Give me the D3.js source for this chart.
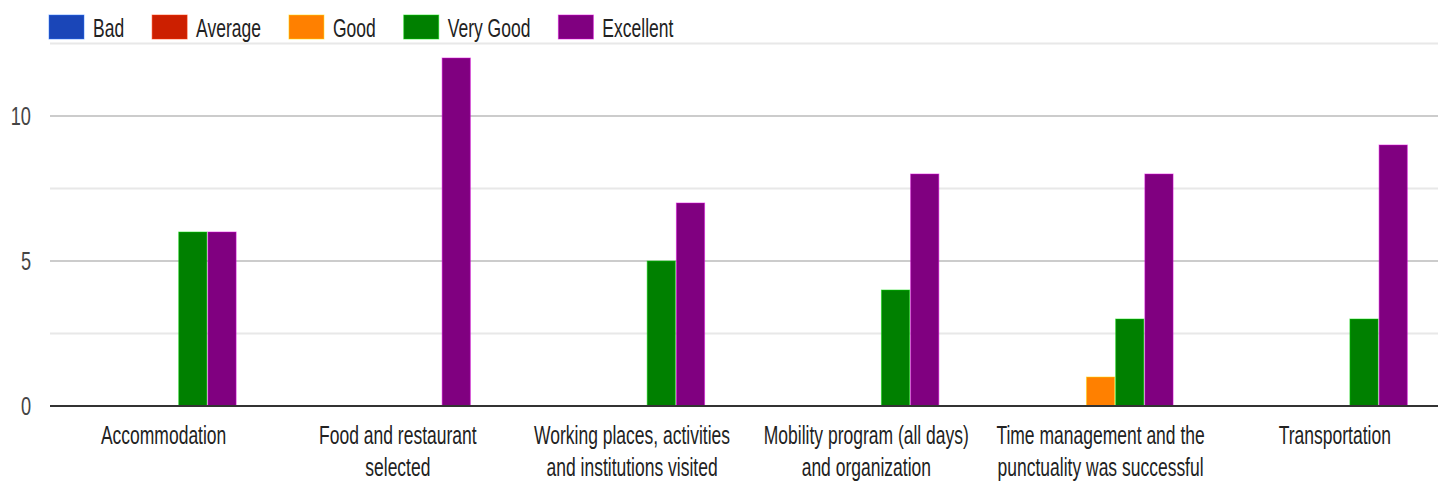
<!DOCTYPE html>
<html lang="en">
<head>
<meta charset="UTF-8">
<title>Ratings</title>
<script src="https://d3js.org/d3.v7.min.js"></script>
<style>
  body { margin: 0; background: #fff; }
  svg { display: block; font-family: "Liberation Sans", Arial, sans-serif; }
</style>
</head>
<body>
<svg id="chart" width="1438" height="483"></svg>
<script>
// data
var categories = [
  ["Accommodation"],
  ["Food and restaurant", "selected"],
  ["Working places, activities", "and institutions visited"],
  ["Mobility program (all days)", "and organization"],
  ["Time management and the", "punctuality was successful"],
  ["Transportation"]
];
var seriesNames = ["Bad", "Average", "Good", "Very Good", "Excellent"];
var seriesColors = ["#1a46b8", "#cc1f00", "#ff8000", "#008000", "#800080"];
var bad       = [0, 0, 0, 0, 0, 0];
var average   = [0, 0, 0, 0, 0, 0];
var good      = [0, 0, 0, 0, 1, 0];
var veryGood  = [6, 0, 5, 4, 3, 3];
var excellent = [6, 12, 7, 8, 8, 9];
var yTicks = [0, 5, 10];
var yGrid = [2.5, 7.5, 12.5];

var series = [bad, average, good, veryGood, excellent];
var sx = 0.7; // the text in the picture is squeezed sideways

var svg = d3.select("#chart");
var plotLeft = 50, plotTop = 43.5, plotBottom = 406;

// category bands: 6 steps of ~234px, each holding a 145px group
var x = d3.scaleBand()
    .domain(d3.range(categories.length))
    .range([46.6, 1451.8])
    .paddingInner(0.381)
    .paddingOuter(0.19);
var xs = d3.scaleBand()
    .domain(d3.range(seriesNames.length))
    .range([0, x.bandwidth()])
    .paddingInner(0.035);
var y = d3.scaleLinear().domain([0, 12.5]).range([plotBottom, plotTop]);

function squeezed(g, px, py, str, anchor, size, color) {
    return g.append("text")
        .attr("transform", "translate(" + px + "," + py + ") scale(" + sx + ",1)")
        .attr("text-anchor", anchor)
        .attr("font-size", size)
        .attr("fill", color)
        .text(str);
}

// grid
var grid = svg.append("g");
grid.selectAll("line.minor")
    .data(yGrid)
    .enter().append("line")
    .attr("class", "minor")
    .attr("x1", plotLeft).attr("x2", 1438)
    .attr("y1", d => y(d)).attr("y2", d => y(d))
    .attr("stroke", "#e8e8e8").attr("stroke-width", 2);
grid.selectAll("line.major")
    .data(yTicks.filter(d => d > 0))
    .enter().append("line")
    .attr("class", "major")
    .attr("x1", plotLeft).attr("x2", 1438)
    .attr("y1", d => y(d)).attr("y2", d => y(d))
    .attr("stroke", "#cccccc").attr("stroke-width", 2);

// y tick labels
var yl = svg.append("g");
yTicks.forEach(function (t) {
    squeezed(yl, 31, y(t) + 9, String(t), "end", 26, "#444");
});

// bars
var groups = svg.append("g").selectAll("g")
    .data(categories)
    .enter().append("g")
    .attr("transform", (d, i) => "translate(" + x(i) + ",0)");
groups.selectAll("rect")
    .data((d, i) => series.map((s, k) => ({ k: k, v: s[i] })).filter(d => d.v > 0))
    .enter().append("rect")
    .attr("x", d => xs(d.k))
    .attr("width", xs.bandwidth())
    .attr("y", d => y(d.v))
    .attr("height", d => y(0) - y(d.v))
    .attr("fill", d => seriesColors[d.k])
    .attr("stroke", d => d3.color(seriesColors[d.k]).brighter(1.5))
    .attr("stroke-opacity", 0.5)
    .attr("stroke-width", 1);

// baseline
svg.append("line")
    .attr("x1", plotLeft).attr("x2", 1438)
    .attr("y1", plotBottom).attr("y2", plotBottom)
    .attr("stroke", "#333").attr("stroke-width", 2);

// category labels
var xl = svg.append("g");
categories.forEach(function (lines, i) {
    var cx = x(i) + x.bandwidth() / 2;
    lines.forEach(function (str, j) {
        squeezed(xl, cx, 444 + j * 32, str, "middle", 25, "#222");
    });
});

// legend
var lg = svg.append("g");
var lx = 49;
seriesNames.forEach(function (name, k) {
    lg.append("rect")
        .attr("x", lx).attr("y", 15)
        .attr("width", 35).attr("height", 24)
        .attr("fill", seriesColors[k])
        .attr("stroke", d3.color(seriesColors[k]).brighter(1.5))
        .attr("stroke-opacity", 0.5);
    var t = squeezed(lg, lx + 44, 37, name, "start", 25, "#222");
    var w = t.node().getComputedTextLength() * sx;
    lx = lx + 44 + w + 28;
});
</script>
</body>
</html>
